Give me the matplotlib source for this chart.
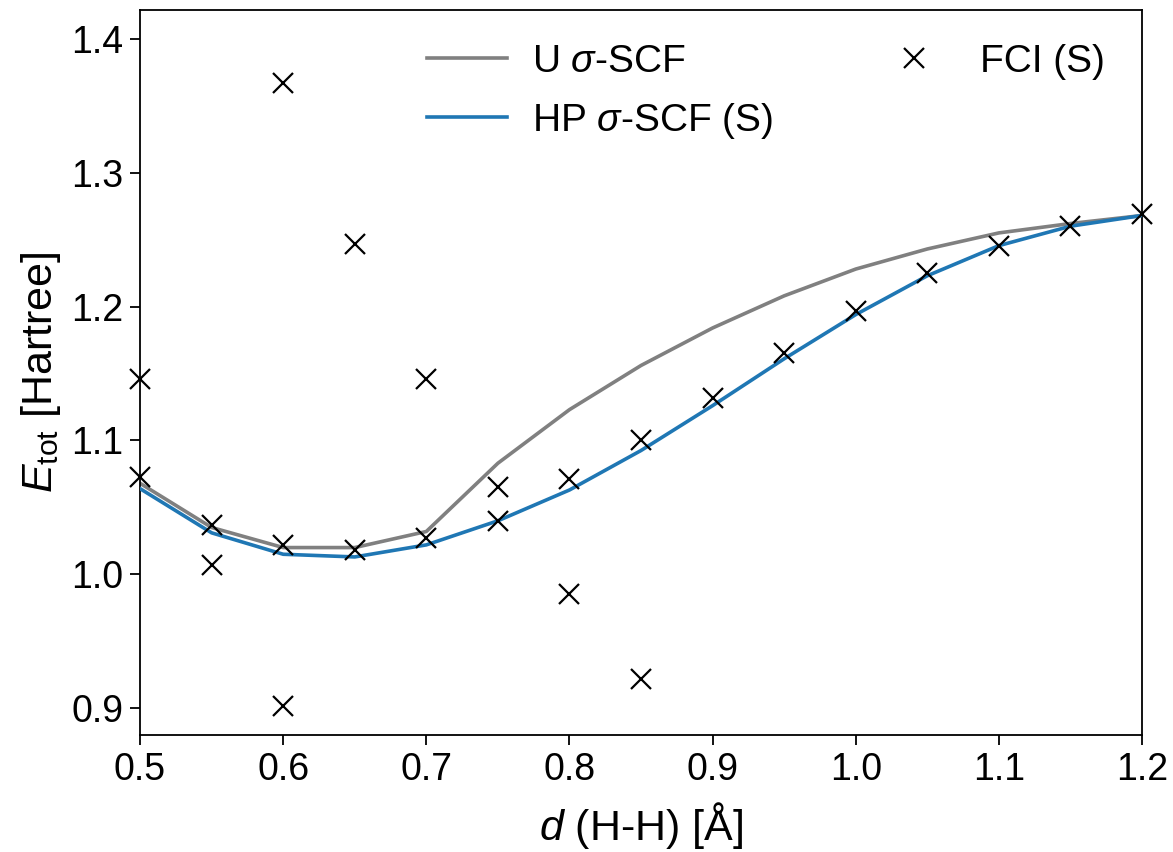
import matplotlib
matplotlib.use("Agg")
import matplotlib.pyplot as plt
import numpy as np

plt.rcParams['font.family'] = ['Liberation Sans', 'DejaVu Sans']
plt.rcParams['mathtext.fontset'] = 'custom'
plt.rcParams['mathtext.rm'] = 'Liberation Sans'
plt.rcParams['mathtext.it'] = 'Liberation Sans:italic'
plt.rcParams['mathtext.bf'] = 'Liberation Sans:bold'

d = [0.5, 0.55, 0.6, 0.65, 0.7, 0.75, 0.8, 0.85, 0.9, 0.95, 1.0, 1.05, 1.1, 1.15, 1.2]
e_u = [1.068, 1.035, 1.020, 1.020, 1.032, 1.083, 1.123, 1.156, 1.184, 1.208, 1.228, 1.243, 1.255, 1.262, 1.268]
e_hp = [1.064, 1.031, 1.015, 1.013, 1.022, 1.040, 1.063, 1.0925, 1.126, 1.161, 1.194, 1.223, 1.2455, 1.260, 1.268]

fci_d = [0.5, 0.5, 0.55, 0.55, 0.6, 0.6, 0.6, 0.65, 0.65, 0.7, 0.7, 0.75, 0.75,
         0.8, 0.8, 0.85, 0.85, 0.9, 0.95, 1.0, 1.05, 1.1, 1.15, 1.2]
fci_e = [1.146, 1.073, 1.037, 1.007, 1.367, 1.022, 0.902, 1.247, 1.018, 1.146, 1.027, 1.065, 1.040,
         1.071, 0.985, 1.100, 0.922, 1.132, 1.165, 1.197, 1.225, 1.2455, 1.260, 1.269]

xticks = [0.5, 0.6, 0.7, 0.8, 0.9, 1.0, 1.1, 1.2]
yticks = [0.9, 1.0, 1.1, 1.2, 1.3, 1.4]

fig = plt.figure(figsize=(11.73, 8.52), dpi=100)
ax = fig.add_axes([0.1194, 0.1373, 0.8542, 0.851])

ax.plot(d, e_u, color='#808080', lw=2.6, label=r'U $\sigma$-SCF', zorder=2)
ax.plot(d, e_hp, color='#1f77b4', lw=2.6, label=r'HP $\sigma$-SCF (S)', zorder=3)
ax.plot(fci_d, fci_e, ls='none', marker='x', color='black', ms=15, mew=1.6,
        label='FCI (S)', zorder=4, clip_on=False)

ax.set_xlim(0.5, 1.2)
ax.set_ylim(0.88, 1.4215)
ax.set_xticks(xticks)
ax.set_yticks(yticks)
ax.set_xticklabels([f'{v:.1f}' for v in xticks])
ax.set_yticklabels([f'{v:.1f}' for v in yticks])
ax.tick_params(axis='both', labelsize=27, length=7, width=1.3, direction='out', pad=5)
for s in ax.spines.values():
    s.set_linewidth(1.3)

ax.set_xlabel(r'$d$ (H-H) [Å]', fontsize=31, labelpad=9)
ax.set_ylabel(r'$E_{\rm tot}$ [Hartree]', fontsize=31, labelpad=6)

ax.legend(loc='upper right', bbox_to_anchor=(0.978, 0.975), ncol=2, frameon=False,
          fontsize=28, handlelength=2.05, handletextpad=0.65, columnspacing=2.6,
          borderaxespad=0, labelspacing=0.55)

fig.savefig('out.png', dpi=100)
